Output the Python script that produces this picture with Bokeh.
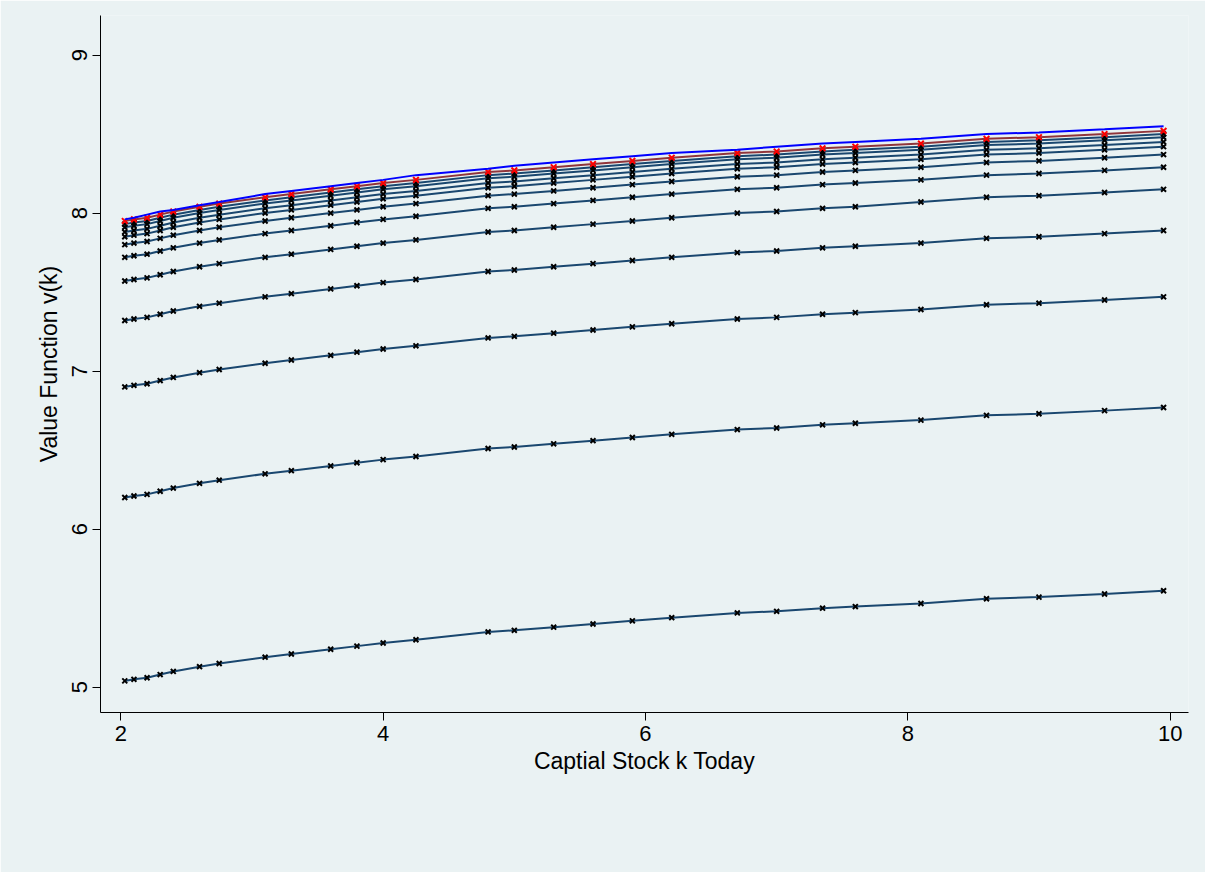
from bokeh.plotting import figure
from bokeh.models import Legend, LegendItem, Range1d
from bokeh.embed import file_html
from bokeh.resources import INLINE

# capital stock grid (k today)
k = [2.03, 2.1, 2.2, 2.3, 2.4, 2.6, 2.75, 3.1, 3.3, 3.6, 3.8, 4.0, 4.25, 4.8,
     5.0, 5.3, 5.6, 5.9, 6.2, 6.7, 7.0, 7.35, 7.6, 8.1, 8.6, 9.0, 9.5, 9.95]

# value function iterations v_n(k)
v_iter = [
    [5.04, 5.05, 5.06, 5.08, 5.10, 5.13, 5.15, 5.19, 5.21, 5.24, 5.26, 5.28, 5.30, 5.35,
     5.36, 5.38, 5.40, 5.42, 5.44, 5.47, 5.48, 5.50, 5.51, 5.53, 5.56, 5.57, 5.59, 5.61],
    [6.20, 6.21, 6.22, 6.24, 6.26, 6.29, 6.31, 6.35, 6.37, 6.40, 6.42, 6.44, 6.46, 6.51,
     6.52, 6.54, 6.56, 6.58, 6.60, 6.63, 6.64, 6.66, 6.67, 6.69, 6.72, 6.73, 6.75, 6.77],
    [6.90, 6.91, 6.92, 6.94, 6.96, 6.99, 7.01, 7.05, 7.07, 7.10, 7.12, 7.14, 7.16, 7.21,
     7.22, 7.24, 7.26, 7.28, 7.30, 7.33, 7.34, 7.36, 7.37, 7.39, 7.42, 7.43, 7.45, 7.47],
    [7.32, 7.33, 7.34, 7.36, 7.38, 7.41, 7.43, 7.47, 7.49, 7.52, 7.54, 7.56, 7.58, 7.63,
     7.64, 7.66, 7.68, 7.70, 7.72, 7.75, 7.76, 7.78, 7.79, 7.81, 7.84, 7.85, 7.87, 7.89],
    [7.57, 7.58, 7.59, 7.61, 7.63, 7.66, 7.68, 7.72, 7.74, 7.77, 7.79, 7.81, 7.83, 7.88,
     7.89, 7.91, 7.93, 7.95, 7.97, 8.00, 8.01, 8.03, 8.04, 8.07, 8.10, 8.11, 8.13, 8.15],
    [7.72, 7.73, 7.74, 7.76, 7.78, 7.81, 7.83, 7.87, 7.89, 7.92, 7.94, 7.96, 7.98, 8.03,
     8.04, 8.06, 8.08, 8.10, 8.12, 8.15, 8.16, 8.18, 8.19, 8.21, 8.24, 8.25, 8.27, 8.29],
    [7.80, 7.81, 7.82, 7.84, 7.86, 7.89, 7.91, 7.95, 7.97, 8.00, 8.02, 8.04, 8.06, 8.11,
     8.12, 8.14, 8.16, 8.18, 8.20, 8.23, 8.24, 8.26, 8.27, 8.29, 8.32, 8.33, 8.35, 8.37],
    [7.85, 7.86, 7.87, 7.89, 7.91, 7.94, 7.96, 8.00, 8.02, 8.05, 8.07, 8.09, 8.11, 8.16,
     8.17, 8.19, 8.21, 8.23, 8.25, 8.28, 8.29, 8.31, 8.32, 8.34, 8.37, 8.38, 8.40, 8.42],
    [7.88, 7.89, 7.90, 7.92, 7.94, 7.97, 7.99, 8.03, 8.05, 8.08, 8.10, 8.12, 8.14, 8.19,
     8.20, 8.22, 8.24, 8.26, 8.28, 8.31, 8.32, 8.34, 8.35, 8.37, 8.40, 8.41, 8.43, 8.45],
    [7.91, 7.92, 7.93, 7.95, 7.97, 8.00, 8.02, 8.06, 8.08, 8.11, 8.13, 8.15, 8.17, 8.22,
     8.23, 8.25, 8.27, 8.29, 8.31, 8.34, 8.35, 8.37, 8.38, 8.40, 8.43, 8.44, 8.46, 8.48],
    [7.93, 7.94, 7.95, 7.97, 7.99, 8.02, 8.04, 8.08, 8.10, 8.13, 8.15, 8.17, 8.19, 8.24,
     8.25, 8.27, 8.29, 8.31, 8.33, 8.36, 8.37, 8.39, 8.40, 8.42, 8.45, 8.46, 8.48, 8.50],
]

v_conv = [7.95, 7.96, 7.97, 7.99, 8.01, 8.04, 8.06, 8.10, 8.12, 8.15, 8.17, 8.19, 8.21, 8.26,
          8.27, 8.29, 8.31, 8.33, 8.35, 8.38, 8.39, 8.41, 8.42, 8.44, 8.47, 8.48, 8.50, 8.52]

# v(k) = 7.7 + .37*log(k)
v_analytic = [7.96, 7.97, 7.99, 8.01, 8.02, 8.05, 8.07, 8.12, 8.14, 8.17, 8.19, 8.21, 8.24, 8.28,
              8.30, 8.32, 8.34, 8.36, 8.38, 8.40, 8.42, 8.44, 8.45, 8.47, 8.50, 8.51, 8.53, 8.55]

BG = "#eaf2f3"
FONT = "Liberation Sans"

p = figure(width=1205, height=872, output_backend="svg", toolbar_location=None,
           x_range=Range1d(1.845, 10.14), y_range=Range1d(4.84, 9.25),
           min_border_left=100, min_border_right=17, min_border_top=15,
           min_border_bottom=160)
p.background_fill_color = BG
p.border_fill_color = BG
p.outline_line_color = None
p.grid.visible = False

for ax in (p.xaxis, p.yaxis):
    ax.axis_line_color = "black"
    ax.major_tick_line_color = "black"
    ax.major_tick_out = 8
    ax.major_tick_in = 0
    ax.minor_tick_line_color = None
    ax.major_label_text_font = FONT
    ax.major_label_text_font_size = "22px"
    ax.major_label_text_color = "black"
    ax.axis_label_text_font = FONT
    ax.axis_label_text_font_size = "23px"
    ax.axis_label_text_font_style = "normal"
    ax.axis_label_text_color = "black"

p.xaxis.ticker = [2, 4, 6, 8, 10]
p.yaxis.ticker = [5, 6, 7, 8, 9]
p.yaxis.major_label_orientation = "vertical"
p.xaxis.axis_label = "Captial Stock k Today"
p.yaxis.axis_label = "Value Function v(k)"
p.xaxis.axis_label_standoff = 4
p.yaxis.axis_label_standoff = 8

vn_items = []
for v in v_iter:
    l = p.line(k, v, line_color="#1a476f", line_width=2)
    m = p.scatter(k, v, marker="x", size=7, line_color="black", line_width=2)
    if not vn_items:
        vn_items = [l, m]

lc = p.line(k, v_conv, line_color="#90353b", line_width=2)
mc = p.scatter(k, v_conv, marker="x", size=8, line_color="red", line_width=2)
la = p.line(k, v_analytic, line_color="blue", line_width=2)

legend = Legend(items=[
    LegendItem(label="v_n(k) for n > 1", renderers=vn_items),
    LegendItem(label="v(k) = 7.7 + .37*log(k) (analytic solution)", renderers=[la]),
    LegendItem(label="Converged v(k)", renderers=[lc, mc]),
], orientation="vertical", ncols=2)
legend.label_text_font = FONT
legend.label_text_font_size = "23px"
legend.label_text_color = "black"
legend.glyph_width = 105
legend.background_fill_color = "white"
legend.background_fill_alpha = 1
legend.border_line_color = "black"
legend.border_line_width = 1
legend.padding = 10
legend.spacing = 8
legend.margin = 0
legend.location = (12, -200)
p.add_layout(legend, "center")

open("out.html", "w").write(file_html(p, INLINE))
